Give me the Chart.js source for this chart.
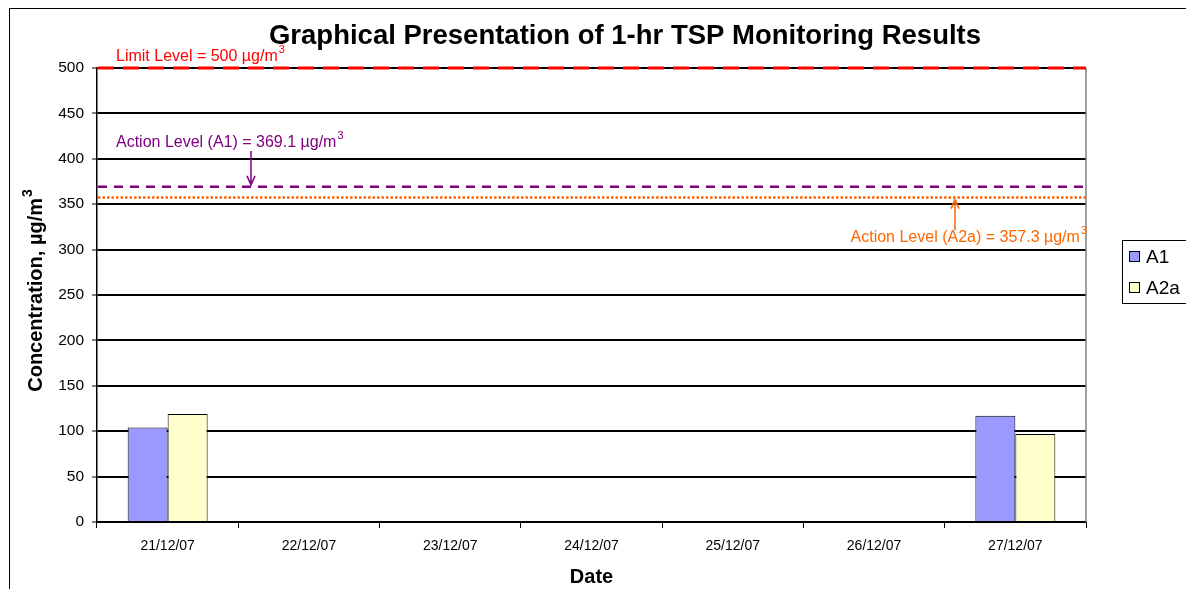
<!DOCTYPE html>
<html>
<head>
<meta charset="utf-8">
<script src="https://cdn.jsdelivr.net/npm/chart.js@4/dist/chart.umd.min.js"></script>
<style>
  html, body { margin: 0; padding: 0; background: #fff; }
  #wrap { position: relative; width: 1186px; height: 589px; overflow: hidden; }
  #frame { position: absolute; left: 9px; top: 8px; width: 1300px; height: 700px; border: 1px solid #000; box-sizing: border-box; }
  canvas { position: absolute; left: 0; top: 0; }
</style>
</head>
<body>
<div id="wrap">
  <div id="frame"></div>
  <canvas id="c" width="1186" height="589"></canvas>
</div>
<script>
// ---- data ----
const categories = ['21/12/07', '22/12/07', '23/12/07', '24/12/07', '25/12/07', '26/12/07', '27/12/07'];
const seriesNames = ['A1', 'A2a'];
const a1Values = [104, null, null, null, null, null, 117];
const a2aValues = [119, null, null, null, null, null, 97];
const levelValues = [500, 369.1, 357.3];
const levelLabels = ['Limit Level = 500 \u00b5g/m', 'Action Level (A1) = 369.1 \u00b5g/m', 'Action Level (A2a) = 357.3 \u00b5g/m'];
const yMin = 0, yMax = 500, yStep = 50;

const FONT = '"Liberation Sans", Arial, sans-serif';

function textWithSup(ctx, txt, x, y, size, color, align, weight) {
  const w = weight ? weight + ' ' : '';
  ctx.save();
  ctx.fillStyle = color;
  ctx.textBaseline = 'alphabetic';
  ctx.font = w + size + 'px ' + FONT;
  const w1 = ctx.measureText(txt).width;
  ctx.font = w + Math.round(size * 0.7) + 'px ' + FONT;
  const w2 = ctx.measureText('3').width;
  let x0 = align === 'right' ? x - w1 - w2 : (align === 'center' ? x - (w1 + w2) / 2 : x);
  ctx.textAlign = 'left';
  ctx.font = w + size + 'px ' + FONT;
  ctx.fillText(txt, x0, y);
  ctx.font = w + Math.round(size * 0.7) + 'px ' + FONT;
  ctx.fillText('3', x0 + w1 + 1, y - size * 0.5);
  ctx.restore();
}

function arrow(ctx, x, y1, y2, color) {
  ctx.save();
  ctx.strokeStyle = color;
  ctx.lineWidth = 1.5;
  ctx.setLineDash([]);
  ctx.beginPath();
  ctx.moveTo(x, y1); ctx.lineTo(x, y2);
  const d = y2 > y1 ? -1 : 1;
  ctx.moveTo(x - 4, y2 + d * 9); ctx.lineTo(x, y2); ctx.lineTo(x + 4, y2 + d * 9);
  ctx.stroke();
  ctx.restore();
}

const overlay = {
  id: 'overlay',
  afterDraw(chart) {
    const ctx = chart.ctx;
    const a = chart.chartArea;
    const y = chart.scales.y;
    // right border of plot
    ctx.save();
    ctx.strokeStyle = '#808080';
    ctx.lineWidth = 1.5;
    ctx.beginPath(); ctx.moveTo(a.right, a.top); ctx.lineTo(a.right, a.bottom); ctx.stroke();
    ctx.restore();

    const styles = [
      { color: '#FF0000', width: 3, dash: [16, 9] },
      { color: '#800080', width: 2.5, dash: [9, 7] },
      { color: '#FF6600', width: 2.5, dash: [2.5, 2] }
    ];
    levelValues.forEach((v, i) => {
      const py = y.getPixelForValue(v);
      ctx.save();
      ctx.strokeStyle = styles[i].color;
      ctx.lineWidth = styles[i].width;
      ctx.setLineDash(styles[i].dash);
      ctx.beginPath(); ctx.moveTo(a.left + 1, py); ctx.lineTo(a.right, py); ctx.stroke();
      ctx.restore();
    });
    // labels
    textWithSup(ctx, levelLabels[0], 116, 61, 16, '#FF0000', 'left');
    textWithSup(ctx, levelLabels[1], 116, 147, 16, '#800080', 'left');
    textWithSup(ctx, levelLabels[2], a.right, 242, 16, '#FF6600', 'right');
    arrow(ctx, 251, 151, y.getPixelForValue(levelValues[1]) - 2, '#800080');
    arrow(ctx, 955, 230, y.getPixelForValue(levelValues[2]) + 2, '#FF6600');

    // title
    ctx.save();
    ctx.fillStyle = '#000';
    ctx.font = 'bold 27.5px ' + FONT;
    ctx.textAlign = 'center';
    ctx.textBaseline = 'middle';
    ctx.fillText('Graphical Presentation of 1-hr TSP Monitoring Results', 625, 36);
    ctx.restore();

    // y axis title
    ctx.save();
    ctx.translate(42, 291);
    ctx.rotate(-Math.PI / 2);
    textWithSup(ctx, 'Concentration, \u00b5g/m', 0, 0, 20, '#000', 'center', 'bold');
    ctx.restore();

    // legend
    ctx.save();
    ctx.fillStyle = '#fff';
    ctx.strokeStyle = '#000';
    ctx.lineWidth = 1;
    ctx.fillRect(1122.5, 240.5, 80, 63);
    ctx.strokeRect(1122.5, 240.5, 80, 63);
    chart.data.datasets.forEach((ds, i) => {
      const cy = 257 + i * 31;
      ctx.fillStyle = ds.backgroundColor;
      ctx.fillRect(1129.5, cy - 5.5, 10, 10);
      ctx.strokeRect(1129.5, cy - 5.5, 10, 10);
      ctx.fillStyle = '#000';
      ctx.font = '19px ' + FONT;
      ctx.textAlign = 'left';
      ctx.textBaseline = 'middle';
      ctx.fillText(ds.label, 1146, cy + 1);
    });
    ctx.restore();
  }
};

new Chart(document.getElementById('c'), {
  type: 'bar',
  data: {
    labels: categories,
    datasets: [
      { label: seriesNames[0], data: a1Values, backgroundColor: '#9999FF', borderColor: '#000', borderWidth: 1 },
      { label: seriesNames[1], data: a2aValues, backgroundColor: '#FFFFCC', borderColor: '#000', borderWidth: 1 }
    ]
  },
  options: {
    responsive: false,
    animation: false,
    devicePixelRatio: 1,
    layout: { padding: { top: 68, right: 100, left: 0, bottom: 0 } },
    datasets: { bar: { categoryPercentage: 0.566, barPercentage: 1.0 } },
    plugins: { legend: { display: false }, title: { display: false }, tooltip: { enabled: false } },
    scales: {
      x: {
        afterFit: s => { s.height = 67; },
        grid: { drawOnChartArea: false, drawTicks: true, tickLength: 6, tickColor: '#000', tickWidth: 1 },
        border: { color: '#000', width: 1.5 },
        ticks: { color: '#000', font: { family: FONT, size: 14 }, padding: 10, maxRotation: 0 },
        title: { display: true, text: 'Date', color: '#000', font: { family: FONT, size: 20, weight: 'bold' }, padding: { top: 0, bottom: 0 } }
      },
      y: {
        min: yMin, max: yMax,
        afterFit: s => { s.width = 97; },
        grid: { color: '#000', lineWidth: 2, drawTicks: true, tickLength: 5, tickColor: '#000', tickWidth: 1 },
        border: { color: '#000', width: 1.5 },
        ticks: { stepSize: yStep, color: '#000', font: { family: FONT, size: 15.5 }, padding: 8 },
        title: { display: false }
      }
    }
  },
  plugins: [overlay]
});
</script>
</body>
</html>
